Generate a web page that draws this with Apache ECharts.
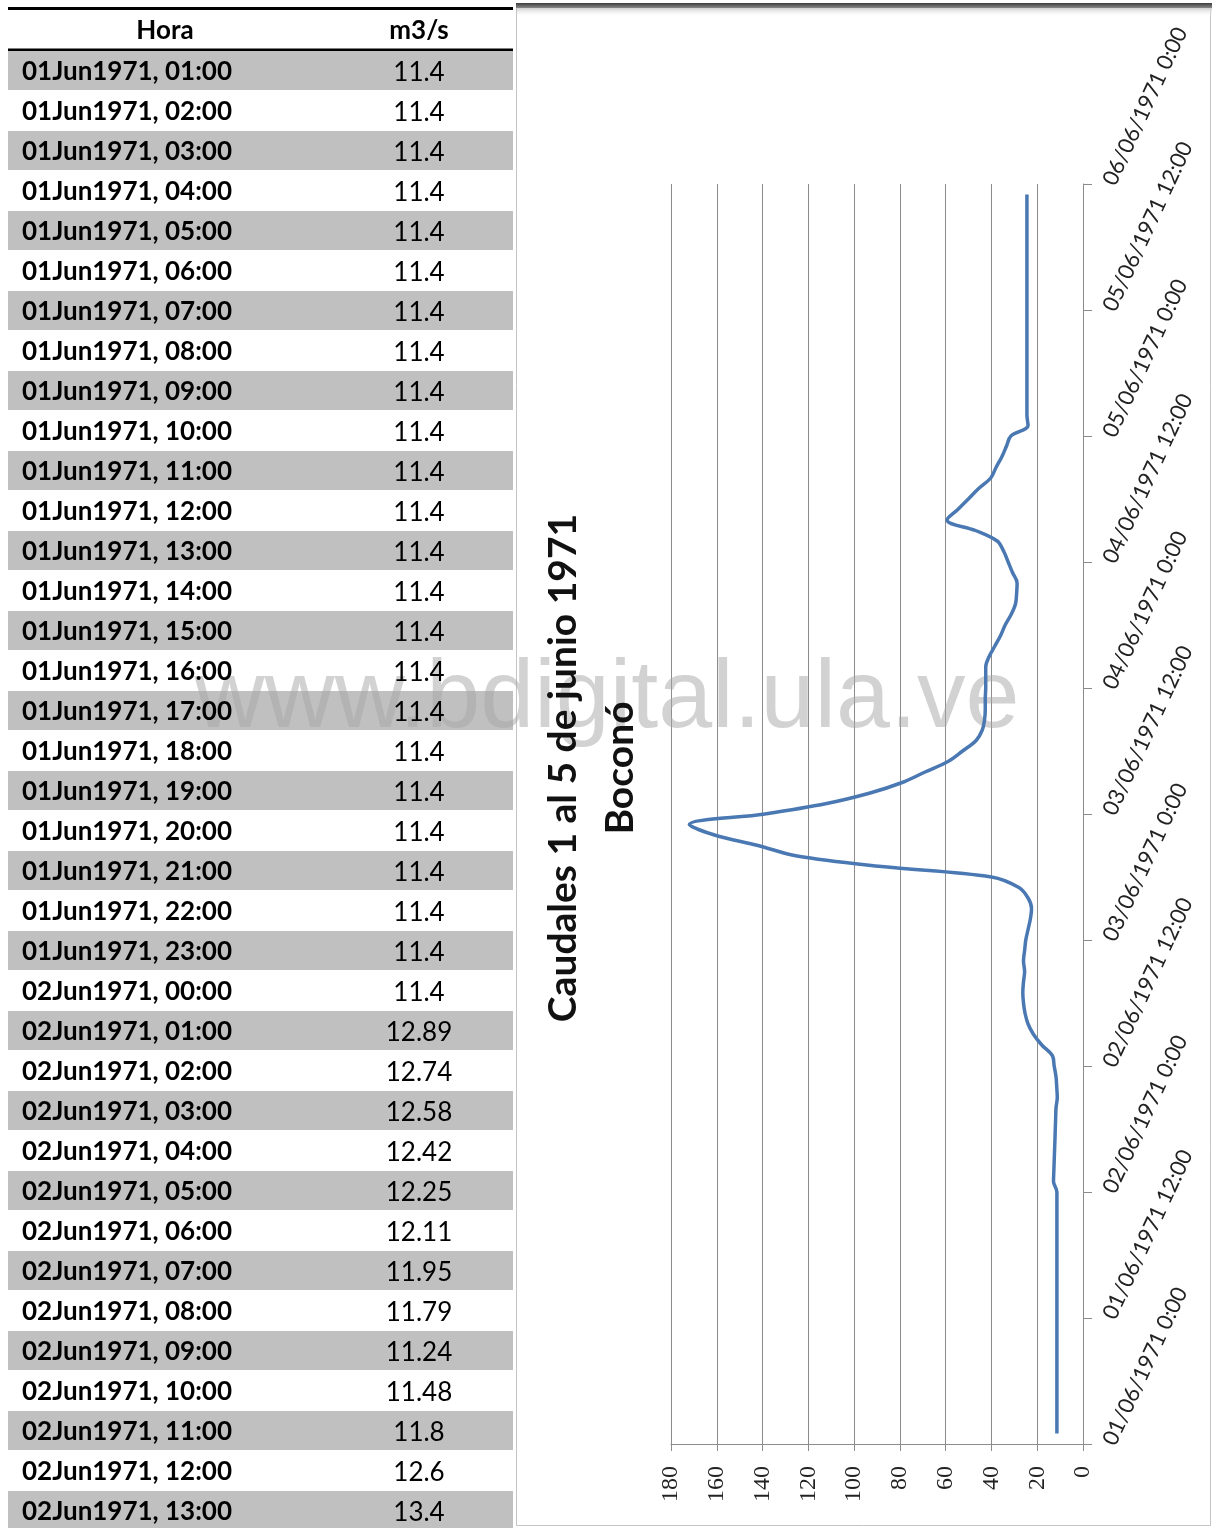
<!DOCTYPE html>
<html><head><meta charset="utf-8">
<script src="https://cdn.jsdelivr.net/npm/echarts@6/dist/echarts.min.js"></script>
<style>html,body{margin:0;padding:0;background:#fff;}#c{width:1212px;height:1528px;}</style>
</head><body><div id="c"></div>
<script>
// ---- data ----
const tableHeader = ['Hora', 'm3/s'];
const tableHours = [
  '01Jun1971, 01:00','01Jun1971, 02:00','01Jun1971, 03:00','01Jun1971, 04:00','01Jun1971, 05:00',
  '01Jun1971, 06:00','01Jun1971, 07:00','01Jun1971, 08:00','01Jun1971, 09:00','01Jun1971, 10:00',
  '01Jun1971, 11:00','01Jun1971, 12:00','01Jun1971, 13:00','01Jun1971, 14:00','01Jun1971, 15:00',
  '01Jun1971, 16:00','01Jun1971, 17:00','01Jun1971, 18:00','01Jun1971, 19:00','01Jun1971, 20:00',
  '01Jun1971, 21:00','01Jun1971, 22:00','01Jun1971, 23:00','02Jun1971, 00:00','02Jun1971, 01:00',
  '02Jun1971, 02:00','02Jun1971, 03:00','02Jun1971, 04:00','02Jun1971, 05:00','02Jun1971, 06:00',
  '02Jun1971, 07:00','02Jun1971, 08:00','02Jun1971, 09:00','02Jun1971, 10:00','02Jun1971, 11:00',
  '02Jun1971, 12:00','02Jun1971, 13:00'
];
const flowTable = [
  11.4,11.4,11.4,11.4,11.4,11.4,11.4,11.4,11.4,11.4,11.4,11.4,
  11.4,11.4,11.4,11.4,11.4,11.4,11.4,11.4,11.4,11.4,11.4,11.4,
  12.89,12.74,12.58,12.42,12.25,12.11,11.95,11.79,11.24,11.48,11.8,12.6,13.4
];
// hourly values (02Jun 14:00 onwards)
const flowRest = [
  18,21.6,24,25.3,26,26.3,26,25.5,26,25.5,25,24,23,22.5,24,28,
  40,88,125,142,161,172,
  139,112,93,79,69,59,52.6,46.7,44,43,
  42.7,42.7,42.5,42.5,42.5,41,38.5,36,34,31.4,
  29.5,29,28.8,30.8,32.7,34.6,37.5,47,59.4,54.7,
  50.1,45.6,40.3,38,35.5,33.5,31.5,24,
  24.5,24.5,24.5,24.5,24.5,24.5,24.5,24.5,24.5,24.5,24.5,
  24.5,24.5,24.5,24.5,24.5,24.5,24.5,24.5,24.5,24.5,24.5
];
const dateTicks = [
  '01/06/1971 0:00','01/06/1971 12:00','02/06/1971 0:00','02/06/1971 12:00',
  '03/06/1971 0:00','03/06/1971 12:00','04/06/1971 0:00','04/06/1971 12:00',
  '05/06/1971 0:00','05/06/1971 12:00','06/06/1971 0:00'
];
const titleLines = ['Caudales 1 al 5 de junio 1971', 'Boconó'];
const watermark = 'www.bdigital.ula.ve';

// ---- build ----
const flow = flowTable.concat(flowRest);
const seriesData = flow.map((v, i) => [v, i + 1]); // hour index from 01Jun 00:00

const chart = echarts.init(document.getElementById('c'), null, {renderer: 'canvas'});
const graphics = [];
// chart panel
graphics.push({type:'rect', z:0, shape:{x:516.5, y:4.5, width:694, height:1521}, style:{fill:'#fff', stroke:'#c4c4c4', lineWidth:1}});
graphics.push({type:'rect', z:0, shape:{x:516, y:3, width:696, height:5},
  style:{fill:new echarts.graphic.LinearGradient(0,0,0,1,[{offset:0,color:'#3c3c3c'},{offset:1,color:'#8a8a8a'}])}});
graphics.push({type:'rect', z:0, shape:{x:517, y:8, width:695, height:9},
  style:{fill:new echarts.graphic.LinearGradient(0,0,0,1,[{offset:0,color:'#cfcfcf'},{offset:1,color:'rgba(255,255,255,0)'}])}});
// table
const tX = 8, tW = 505, rowTop = 51, rowH = 40;
graphics.push({type:'rect', z:0, shape:{x:tX, y:7, width:tW, height:3}, style:{fill:'#000'}});
graphics.push({type:'rect', z:0, shape:{x:tX, y:48.5, width:tW, height:2.5}, style:{fill:'#000'}});
graphics.push({type:'text', z:6, x:165, y:31, style:{text:tableHeader[0], font:'bold 26px Lato', fill:'#000', align:'center', verticalAlign:'middle'}});
graphics.push({type:'text', z:6, x:419, y:31, style:{text:tableHeader[1], font:'bold 26px Lato', fill:'#000', align:'center', verticalAlign:'middle'}});
tableHours.forEach((h, i) => {
  const y = rowTop + rowH * i;
  if (i % 2 === 0) graphics.push({type:'rect', z:0, shape:{x:tX, y:y, width:tW, height:rowH - 1}, style:{fill:'#c0c0c0'}});
  graphics.push({type:'text', z:6, x:22, y:y + 20.5, style:{text:h, font:'bold 26px Lato', fill:'#000', align:'left', verticalAlign:'middle'}});
  graphics.push({type:'text', z:6, x:419, y:y + 21.5, style:{text:String(flowTable[i]), font:'26px Lato', fill:'#000', align:'center', verticalAlign:'middle'}});
});
// watermark
graphics.push({type:'text', z:3, x:607, y:700, style:{text:watermark, font:'97px "Liberation Sans"', fill:'rgba(165,165,165,0.5)', align:'center', verticalAlign:'middle'}});
// rotated title
graphics.push({type:'text', z:6, x:592, y:768, rotation:Math.PI/2,
  style:{text:titleLines.join('\n'), font:'bold 39px Lato', lineHeight:57, fill:'#111', align:'center', verticalAlign:'middle'}});

chart.setOption({
  animation:false,
  backgroundColor:'#fff',
  grid:{left:671, right:129, top:184, bottom:84, containLabel:false, outerBoundsMode:'none'},
  xAxis:{
    type:'value', min:0, max:180, interval:20, inverse:true, position:'bottom', z:2,
    axisLine:{show:true, onZero:false, lineStyle:{color:'#8c8c8c', width:1}},
    axisTick:{show:true, length:7, lineStyle:{color:'#8c8c8c'}},
    splitLine:{show:true, lineStyle:{color:'#8c8c8c', width:1}},
    axisLabel:{rotate:90, margin:22, fontFamily:'"Liberation Serif"', fontSize:24, color:'#222'}
  },
  yAxis:{
    type:'value', min:0, max:120, interval:12, position:'right', z:2,
    axisLine:{show:true, onZero:false, lineStyle:{color:'#8c8c8c', width:1}},
    axisTick:{show:true, length:9, lineStyle:{color:'#8c8c8c'}},
    splitLine:{show:false},
    axisLabel:{rotate:65, margin:26, fontFamily:'Lato', fontSize:22, color:'#222',
      formatter:(v) => dateTicks[Math.round(v / 12)] || ''}
  },
  series:[{
    type:'line', z:5, data:seriesData, smooth:0.35, showSymbol:false, symbol:'none',
    lineStyle:{color:'#4a78b2', width:3.5}
  }],
  graphic:graphics
});
</script></body></html>
